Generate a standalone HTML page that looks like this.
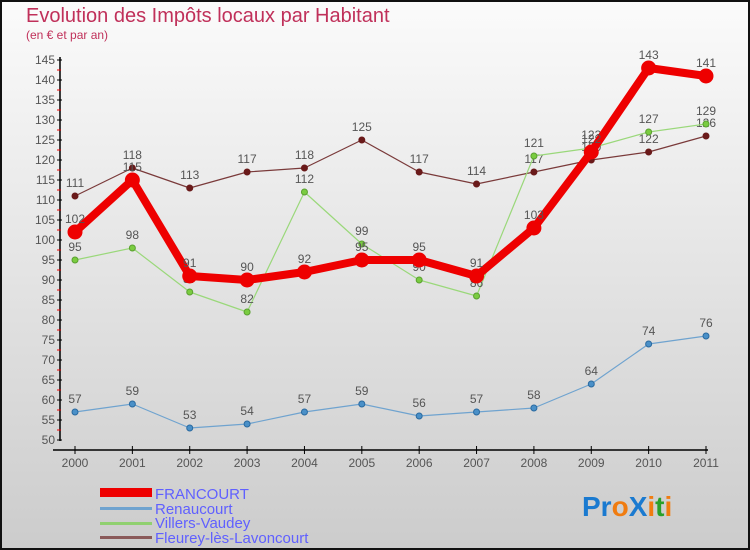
<!DOCTYPE html>
<html><head><meta charset="utf-8"><style>
body{margin:0;width:750px;height:550px;overflow:hidden;font-family:"Liberation Sans",sans-serif}
svg{display:block}
</style></head><body>
<svg id="chart" width="750" height="550" xmlns="http://www.w3.org/2000/svg">
<defs><linearGradient id="bg" x1="0" y1="0" x2="0" y2="1"><stop offset="0" stop-color="#fbfbfb"/><stop offset="1" stop-color="#cccccc"/></linearGradient></defs>
<rect x="1" y="1" width="748" height="548" fill="url(#bg)" stroke="#111" stroke-width="2"/>
<text x="26" y="22" font-size="20" fill="#c0305a">Evolution des Impôts locaux par Habitant</text>
<text x="26" y="39" font-size="12" fill="#c0305a">(en € et par an)</text>
<g id="axes"></g><g id="series"></g>
<g font-size="15" fill="#6060ff">
<rect x="100" y="488" width="52" height="9" fill="#e00"/>
<text x="155" y="499">FRANCOURT</text>
<rect x="100" y="507" width="52" height="3" fill="#6fa3cf"/>
<text x="155" y="514">Renaucourt</text>
<rect x="100" y="522" width="52" height="3" fill="#90d070"/>
<text x="155" y="528">Villers-Vaudey</text>
<rect x="100" y="536" width="52" height="3" fill="#8a5a5a"/>
<text x="155" y="543">Fleurey-lès-Lavoncourt</text>
</g>
<text x="582" y="516" font-size="28" font-weight="bold"><tspan fill="#1a7ad0">Pr</tspan><tspan fill="#f07c10">o</tspan><tspan fill="#1a7ad0">X</tspan><tspan fill="#f07c10">i</tspan><tspan fill="#2aa02a">t</tspan><tspan fill="#f07c10">i</tspan></text>
</svg>
<script>
const years=["2000","2001","2002","2003","2004","2005","2006","2007","2008","2009","2010","2011"];
const yTicks=[50,55,60,65,70,75,80,85,90,95,100,105,110,115,120,125,130,135,140,145];
const francourt=[102,115,91,90,92,95,95,91,103,122,143,141];
const renaucourt=[57,59,53,54,57,59,56,57,58,64,74,76];
const villers=[95,98,87,82,112,99,90,86,121,123,127,129];
const fleurey=[111,118,113,117,118,125,117,114,117,120,122,126];
const NS="http://www.w3.org/2000/svg";
const xs=i=>75+i*(631/11);
const ys=v=>440-(v-50)*4;
function mk(tag,attrs,parent){const e=document.createElementNS(NS,tag);for(const k in attrs)e.setAttribute(k,attrs[k]);parent.appendChild(e);return e;}
const ax=document.getElementById('axes');
let l=mk('line',{x1:60,y1:57,x2:60,y2:441,stroke:'#000','stroke-width':1.5},ax);


l=mk('line',{x1:53,y1:450,x2:708,y2:450,stroke:'#000','stroke-width':1.5},ax);


yTicks.forEach(v=>{
  mk('line',{x1:57,y1:ys(v),x2:62,y2:ys(v),stroke:'#000'},ax);
  if(v<145)mk('line',{x1:57,y1:ys(v+2.5),x2:61,y2:ys(v+2.5),stroke:'#e00'},ax);
  const t=mk('text',{x:55,y:ys(v)+4,'text-anchor':'end','font-size':12,fill:'#555'},ax);
  t.textContent=v;
  
  
});
years.forEach((y,i)=>{
  mk('line',{x1:xs(i),y1:446,x2:xs(i),y2:454,stroke:'#000'},ax);
  const t=mk('text',{x:xs(i),y:467,'text-anchor':'middle','font-size':12,fill:'#555'},ax);
  t.textContent=y;
  
  
});
const sg=document.getElementById('series');
function draw(data,name,color,w,r,dot,dotStroke){
  const g=mk('g',{},sg);
  
  
  const p=mk('polyline',{points:data.map((v,i)=>xs(i)+','+ys(v)).join(' '),fill:'none',stroke:color,'stroke-width':w,'stroke-linejoin':'round'},g);
  
  
  data.forEach((v,i)=>{
    const c=mk('circle',{cx:xs(i),cy:ys(v),r:r,fill:dot,stroke:dotStroke,'stroke-width':1},g);
    
    
    const t=mk('text',{x:xs(i),y:ys(v)-9,'text-anchor':'middle','font-size':12,fill:'#555'},g);
    t.textContent=v;
    
    
  });
}
draw(fleurey,'fleurey','#7a3a3a',1.2,3,'#6a1a1a','#6a1a1a');
draw(villers,'villers','#9ad87a',1.2,3,'#7acc40','#5aa030');
draw(renaucourt,'renaucourt','#6fa3cf',1.2,3,'#4a90c8','#2a6aa0');
draw(francourt,'francourt','#ee0000',8,7,'#ee0000','#ee0000');
</script>
</body></html>
